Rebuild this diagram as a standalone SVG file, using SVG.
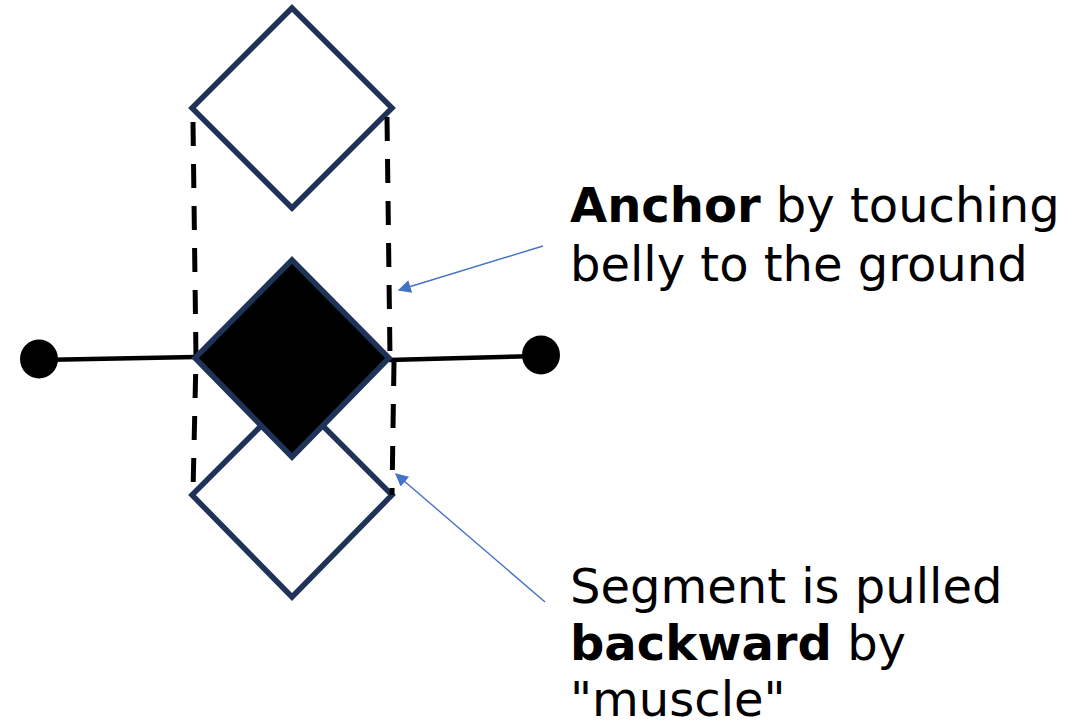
<svg xmlns="http://www.w3.org/2000/svg" width="1081" height="722" viewBox="0 0 1081 722">
<defs>
<style>
.dia{fill:#fff;stroke:#1F3358;stroke-width:5.5;stroke-linejoin:miter}
.dash{fill:none;stroke:#000;stroke-width:5;stroke-dasharray:24 18}
.rod{fill:none;stroke:#000;stroke-width:4.5}
.ptr{fill:none;stroke:#4472C4;stroke-width:1.4}
.t{font-family:"DejaVu Sans",sans-serif;font-size:48px;fill:#000}
.b{font-weight:bold}
</style>
<marker id="ah" viewBox="0 0 10 10" refX="9" refY="5" markerWidth="16" markerHeight="13" markerUnits="userSpaceOnUse" orient="auto">
<path d="M0,0 L10,5 L0,10 z" fill="#4472C4"/>
</marker>
</defs>
<rect width="1081" height="722" fill="#fff"/>
<g id="seg-top"><path class="dia" d="M292,8 L392,108 L292,208 L192,108 Z"/></g>
<g id="seg-bottom"><path class="dia" d="M292,395 L392,495 L292,597 L192,495 Z"/></g>
<g id="connectors">
<path class="dash" d="M193,122 L196,358 L193,492"/>
<path class="dash" d="M387,117 L390,358"/>
<path class="dash" d="M394,362 L392,495"/>
<path class="rod" d="M39,360 L196,357"/>
<path class="rod" d="M389,360 L541,356"/>
<path class="ptr" d="M543,246 L399,290" marker-end="url(#ah)"/>
<path class="ptr" d="M545,602 L396,474" marker-end="url(#ah)"/>
</g>
<g id="seg-mid"><path d="M292,260 L389,358 L292,457 L195,358 Z" fill="#000" stroke="#1F3358" stroke-width="5.5"/></g>
<g id="dot-left"><ellipse cx="39" cy="359" rx="19" ry="19.5" fill="#000"/></g>
<g id="dot-right"><ellipse cx="541" cy="355" rx="19" ry="19.5" fill="#000"/></g>
<g id="label-anchor">
<text class="t" x="570" y="222"><tspan class="b">Anchor</tspan> by touching</text>
<text class="t" x="570" y="281">belly to the ground</text>
</g>
<g id="label-pulled">
<text class="t" x="570" y="603">Segment is pulled</text>
<text class="t" x="570" y="660"><tspan class="b">backward</tspan> by</text>
<text class="t" x="570" y="716">"muscle"</text>
</g>
</svg>
